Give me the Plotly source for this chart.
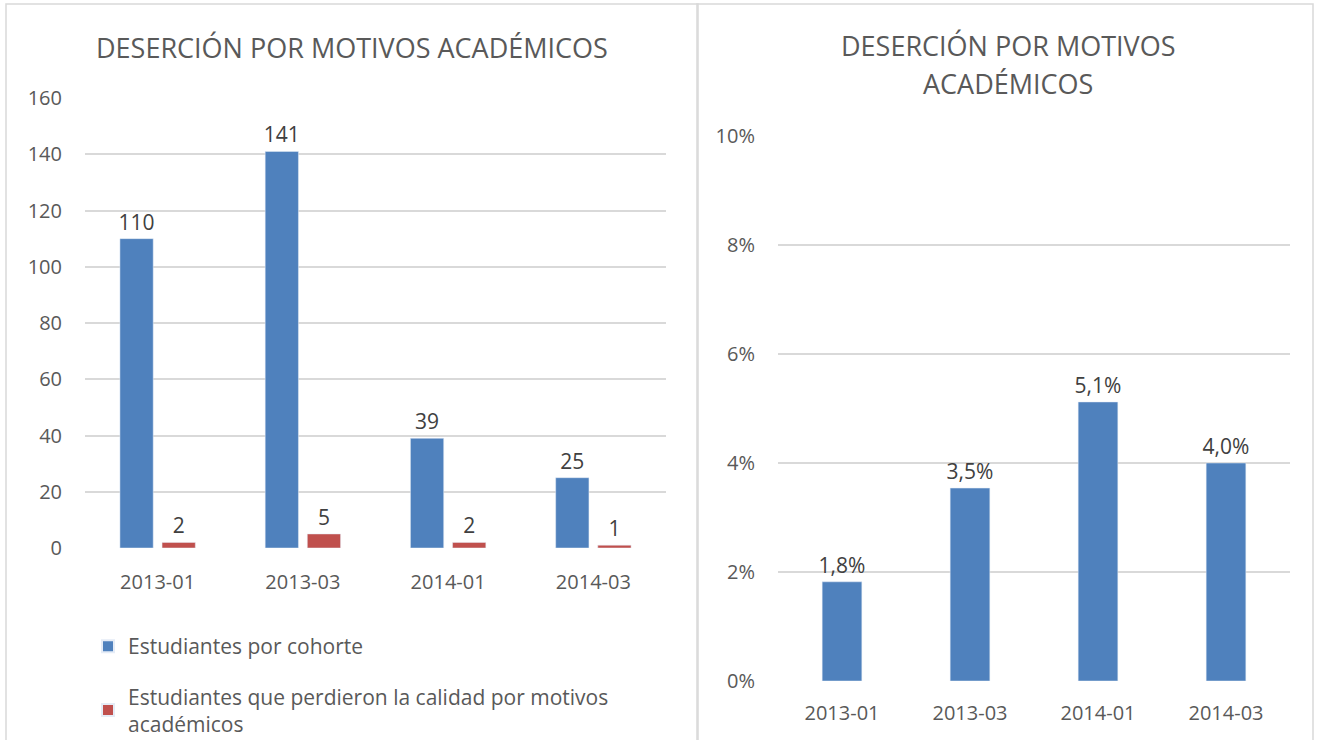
import plotly.graph_objects as go

categories = ["2013-01", "2013-03", "2014-01", "2014-03"]
estudiantes_cohorte = [110, 141, 39, 25]
estudiantes_perdieron = [2, 5, 2, 1]
desercion_pct = [0.0182, 0.0354, 0.0512, 0.0400]
desercion_labels = ["1,8%", "3,5%", "5,1%", "4,0%"]
left_ticks = [0, 20, 40, 60, 80, 100, 120, 140, 160]
right_ticks = [0, 0.02, 0.04, 0.06, 0.08, 0.10]
right_ticktext = ["0%", "2%", "4%", "6%", "8%", "10%"]

FONT = "Open Sans"
GREY = "#595959"
LABEL = "#404040"
GRID = "#d9d9d9"
BLUE = "#4f81bd"
RED = "#c0504d"
W, H = 1320, 740

fig = go.Figure()
fig.add_trace(go.Bar(
    x=categories, y=estudiantes_cohorte, name="Estudiantes por cohorte",
    marker_color=BLUE, text=[str(v) for v in estudiantes_cohorte],
    textposition="outside", textfont=dict(size=21, color=LABEL, family=FONT),
    cliponaxis=False, xaxis="x", yaxis="y", legendgroup="a",
))
fig.add_trace(go.Bar(
    x=categories, y=estudiantes_perdieron,
    name="Estudiantes que perdieron la calidad por motivos<br>académicos",
    marker_color=RED, text=[str(v) for v in estudiantes_perdieron],
    textposition="outside", textfont=dict(size=21, color=LABEL, family=FONT),
    cliponaxis=False, xaxis="x", yaxis="y", legendgroup="b",
))
fig.add_trace(go.Bar(
    x=categories, y=desercion_pct, name="Deserción",
    marker_color=BLUE, text=desercion_labels,
    textposition="outside", textfont=dict(size=21, color=LABEL, family=FONT),
    cliponaxis=False, xaxis="x2", yaxis="y2", showlegend=False,
    width=0.31,
))

def px_x(a, b):
    return [a / W, b / W]

def px_y(top, bottom):
    return [(H - bottom) / H, (H - top) / H]

axis_common = dict(
    tickfont=dict(size=20, color=GREY, family=FONT),
    showline=False, zeroline=False, ticks="", automargin=False,
)

title_font = dict(size=27, color=GREY, family=FONT)

fig.update_layout(
    width=W, height=H,
    margin=dict(l=0, r=0, t=0, b=0, pad=0, autoexpand=False),
    paper_bgcolor="white", plot_bgcolor="white",
    font=dict(family=FONT, color=GREY),
    barmode="group", bargap=0.42, bargroupgap=0.21,
    uniformtext=dict(minsize=21, mode="show"),
    showlegend=True,
    legend=dict(
        x=88 / W, y=(H - 626) / H, xanchor="left", yanchor="top",
        font=dict(size=21, color=GREY, family=FONT),
        tracegroupgap=20, itemsizing="constant", bgcolor="rgba(0,0,0,0)",
    ),
    xaxis=dict(type="category", domain=px_x(85, 666), anchor="y", showgrid=False,
               ticklabelstandoff=20, **axis_common),
    yaxis=dict(domain=px_y(98, 548), anchor="x", range=[0, 160],
               tickvals=left_ticks, showgrid=True, gridcolor=GRID, gridwidth=1.5,
               ticklabelstandoff=22, **axis_common),
    xaxis2=dict(type="category", domain=px_x(778, 1290), anchor="y2", showgrid=False,
                ticklabelstandoff=18, **axis_common),
    yaxis2=dict(domain=px_y(136, 681), anchor="x2", range=[0, 0.10],
                tickvals=right_ticks, ticktext=right_ticktext,
                showgrid=True, gridcolor=GRID, gridwidth=1.5,
                ticklabelstandoff=22, **axis_common),
    annotations=[
        dict(text="DESERCIÓN POR MOTIVOS ACADÉMICOS", x=352 / W, y=(H - 47) / H,
             xref="paper", yref="paper", showarrow=False,
             font=title_font, xanchor="center", yanchor="middle"),
        dict(text="DESERCIÓN POR MOTIVOS", x=1008 / W, y=(H - 45) / H,
             xref="paper", yref="paper", showarrow=False,
             font=title_font, xanchor="center", yanchor="middle"),
        dict(text="ACADÉMICOS", x=1008 / W, y=(H - 84) / H,
             xref="paper", yref="paper", showarrow=False,
             font=title_font, xanchor="center", yanchor="middle"),
    ],
    shapes=[
        dict(type="rect", xref="paper", yref="paper", x0=6 / W, x1=698 / W,
             y0=-0.05, y1=(H - 4) / H, line=dict(color=GRID, width=1.5)),
        dict(type="rect", xref="paper", yref="paper", x0=697 / W, x1=1313 / W,
             y0=-0.05, y1=(H - 4) / H, line=dict(color=GRID, width=1.5)),
    ],
)

fig.write_html(
    "out.html",
    config={"displayModeBar": False},
    post_script="document.body.style.margin='0px';document.body.style.padding='0px';",
)
